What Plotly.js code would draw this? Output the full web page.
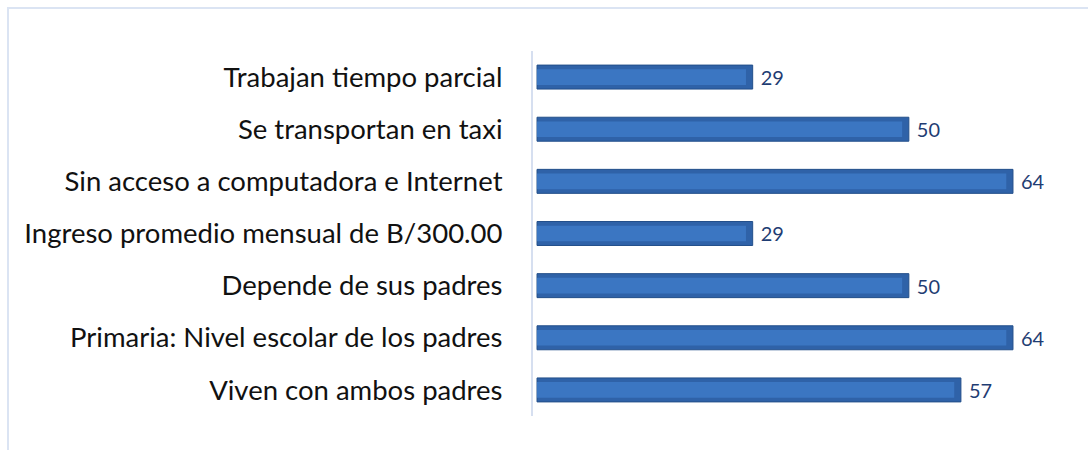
<!DOCTYPE html>
<html>
<head>
<meta charset="utf-8">
<script src="https://cdn.plot.ly/plotly-3.0.1.min.js"></script>
<style>
  html, body { margin: 0; padding: 0; background: #fff; }
  #wrap { position: relative; width: 1088px; height: 450px; }
  #chart { width: 1088px; height: 450px; }
  #frame { position: absolute; left: 7px; top: 7px; width: 1090px; height: 450px;
           border-left: 2px solid #dbe4f3; border-top: 2px solid #dbe4f3; pointer-events: none; }
</style>
</head>
<body>
<div id="wrap">
  <div id="chart"></div>
  <div id="frame"></div>
</div>
<script>
const categories = [
  "Trabajan tiempo parcial",
  "Se transportan en taxi",
  "Sin acceso a computadora e Internet",
  "Ingreso promedio mensual de B/300.00",
  "Depende de sus padres",
  "Primaria: Nivel escolar de los padres",
  "Viven con ambos padres"
];
const values = [29, 50, 64, 29, 50, 64, 57];

const base = {
  type: "bar",
  orientation: "h",
  y: categories,
  x: values,
  width: 0.46,
  marker: { color: "#2f62a8", line: { color: "#234f8a", width: 1 } },
  text: values.map(v => "\u2009\u2009" + v),
  textposition: "outside",
  cliponaxis: false,
  textfont: { family: "Lato, 'Open Sans', sans-serif", size: 20, color: "#1f3d73" },
  hoverinfo: "skip"
};
const highlight = {
  type: "bar",
  orientation: "h",
  y: categories,
  x: values.map(v => v - 0.9),
  width: 0.3,
  marker: { color: "#3b76c2", line: { width: 0 } },
  hoverinfo: "skip"
};

const layout = {
  width: 1088,
  height: 450,
  margin: { l: 533, r: 20, t: 51, b: 34 },
  paper_bgcolor: "#ffffff",
  plot_bgcolor: "#ffffff",
  showlegend: false,
  barmode: "overlay",
  font: { family: "Lato, 'Open Sans', sans-serif" },
  xaxis: {
    range: [-0.54, 71.4],
    showgrid: false, zeroline: false, showline: false,
    showticklabels: false, ticks: ""
  },
  yaxis: {
    autorange: "reversed",
    showgrid: false, zeroline: false,
    showline: true, linecolor: "#d6dff0", linewidth: 2,
    ticks: "",
    ticklabelstandoff: 23,
    tickfont: { family: "Lato, 'Open Sans', sans-serif", size: 27.5, color: "#111111" }
  }
};

Plotly.newPlot("chart", [base, highlight], layout, { displayModeBar: false, staticPlot: true });
</script>
</body>
</html>
